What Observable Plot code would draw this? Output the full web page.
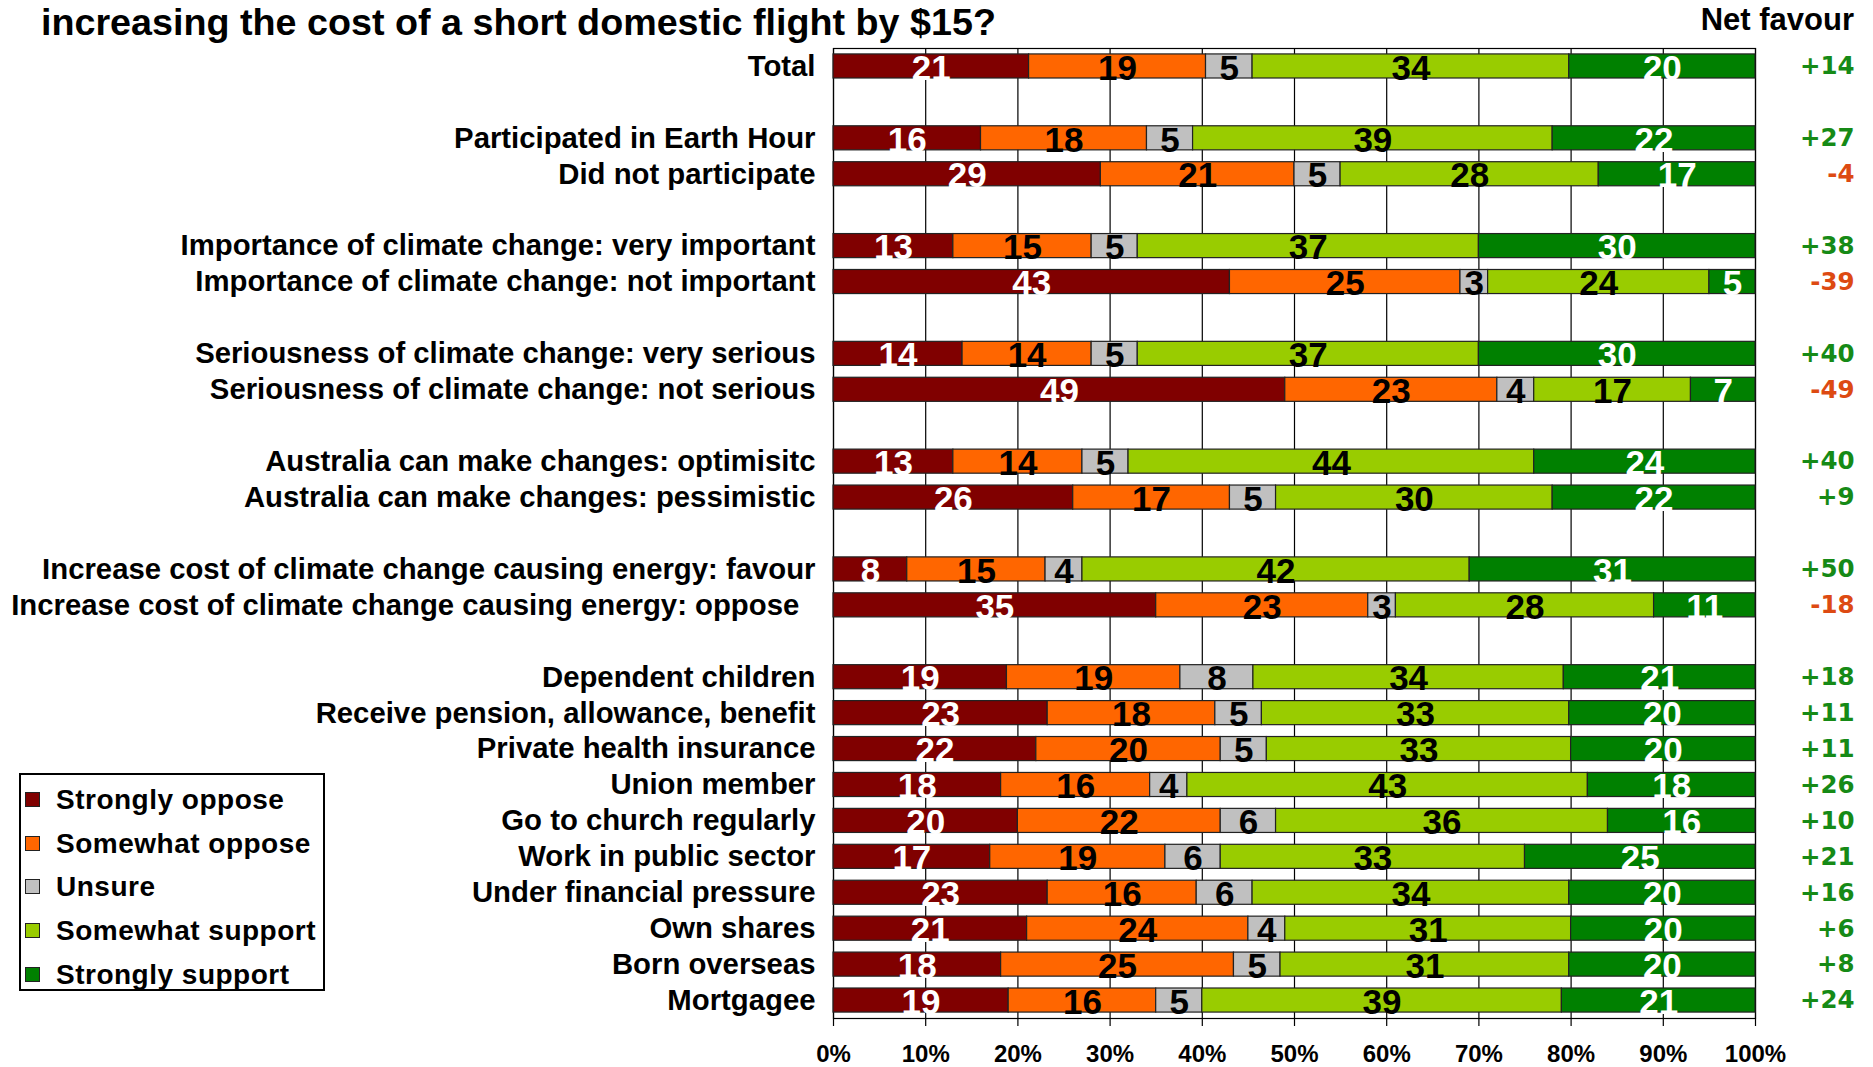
<!DOCTYPE html>
<html>
<head>
<meta charset="utf-8">
<script src="https://cdn.jsdelivr.net/npm/d3@7"></script>
<script src="https://cdn.jsdelivr.net/npm/@observablehq/plot@0.6"></script>
<style>
  html, body { margin: 0; padding: 0; background: #fff; }
  #page { position: relative; width: 1873px; height: 1067px; overflow: hidden; font-family: "Liberation Sans", Arial, sans-serif; }
  #header { position: relative; height: 40px; }
  #title { position: absolute; left: 41px; top: 2px; line-height: 40px; font-size: 37.7px; font-weight: bold; color: #000; white-space: nowrap; }
  #netHead { position: absolute; right: 19px; top: 0; line-height: 40px; font-size: 31px; font-weight: bold; color: #000; white-space: nowrap; }
  #chart svg { display: block; }
  #legend { position: absolute; left: 19px; top: 773px; width: 302px; height: 214px; border: 2px solid #000; background: #fff; box-sizing: content-box; }
  .item { position: absolute; left: 0; height: 30px; line-height: 30px; font-size: 28px; font-weight: bold; letter-spacing: 0.5px; white-space: nowrap; }
  .sw { position: absolute; left: 4px; top: 7px; width: 13px; height: 13px; border: 1.5px solid #222; }
  .lab { position: absolute; left: 35px; top: 0; }
</style>
</head>
<body>
<div id="page">
  <div id="header">
    <div id="title"></div>
    <div id="netHead"></div>
  </div>
  <div id="chart"></div>
  <div id="legend"></div>
</div>
<script>
// ---------- data ----------
const titleText = "increasing the cost of a short domestic flight by $15?";
const netHeader = "Net favour";
const segments = ["Strongly oppose", "Somewhat oppose", "Unsure", "Somewhat support", "Strongly support"];
const segmentColors = ["#800000", "#FF6600", "#C0C0C0", "#99CC00", "#008000"];
const rowLabels = [
  "Total",
  "Participated in Earth Hour",
  "Did not participate",
  "Importance of climate change: very important",
  "Importance of climate change: not important",
  "Seriousness of climate change: very serious",
  "Seriousness of climate change: not serious",
  "Australia can make changes: optimisitc",
  "Australia can make changes: pessimistic",
  "Increase cost of climate change causing energy: favour",
  "Increase cost of climate change causing energy: oppose\u00a0\u00a0",
  "Dependent children",
  "Receive pension, allowance, benefit",
  "Private health insurance",
  "Union member",
  "Go to church regularly",
  "Work in public sector",
  "Under financial pressure",
  "Own shares",
  "Born overseas",
  "Mortgagee"
];
const groupSizes = [1, 2, 2, 2, 2, 2, 10];
const stronglyOppose  = [21, 16, 29, 13, 43, 14, 49, 13, 26,  8, 35, 19, 23, 22, 18, 20, 17, 23, 21, 18, 19];
const somewhatOppose  = [19, 18, 21, 15, 25, 14, 23, 14, 17, 15, 23, 19, 18, 20, 16, 22, 19, 16, 24, 25, 16];
const unsure          = [ 5,  5,  5,  5,  3,  5,  4,  5,  5,  4,  3,  8,  5,  5,  4,  6,  6,  6,  4,  5,  5];
const somewhatSupport = [34, 39, 28, 37, 24, 37, 17, 44, 30, 42, 28, 34, 33, 33, 43, 36, 33, 34, 31, 31, 39];
const stronglySupport = [20, 22, 17, 30,  5, 30,  7, 24, 22, 31, 11, 21, 20, 20, 18, 16, 25, 20, 20, 20, 21];
const netFavour       = [14, 27, -4, 38, -39, 40, -49, 40, 9, 50, -18, 18, 11, 11, 26, 10, 21, 16, 6, 8, 24];
const xTicks = [0, 10, 20, 30, 40, 50, 60, 70, 80, 90, 100];

// ---------- build ----------
const series = [stronglyOppose, somewhatOppose, unsure, somewhatSupport, stronglySupport];
const table = rowLabels.flatMap((row, i) => segments.map((seg, j) => ({row, seg, value: series[j][i]})));
const netTable = rowLabels.map((row, i) => ({row, net: netFavour[i]}));
const yDomain = [];
{
  let k = 0;
  groupSizes.forEach((n, g) => {
    if (g > 0) yDomain.push("gap" + g);
    for (let i = 0; i < n; i++) yDomain.push(rowLabels[k++]);
  });
}
const whiteText = new Set(["Strongly oppose", "Strongly support"]);
const sansBold = "'Liberation Sans', Arial, sans-serif";
const netFont = "'DejaVu Sans', Verdana, sans-serif";

document.getElementById("title").textContent = titleText;
document.getElementById("netHead").textContent = netHeader;

const chart = Plot.plot({
  width: 1873,
  height: 1027,
  marginTop: 8,
  marginBottom: 49,
  marginLeft: 833,
  marginRight: 118,
  style: {background: "white", overflow: "visible", color: "#000"},
  x: {domain: [0, 1], axis: null},
  y: {domain: yDomain, paddingInner: 0.33, paddingOuter: 0.165, round: false, axis: null},
  color: {domain: segments, range: segmentColors},
  marks: [
    Plot.gridX(xTicks.map(t => t / 100), {stroke: "#000", strokeOpacity: 1, strokeWidth: 1.2}),
    Plot.frame({stroke: "#000", strokeWidth: 1.2}),
    Plot.barX(table, Plot.stackX({
      x: "value", y: "row", fill: "seg", offset: "normalize",
      stroke: "#222", strokeWidth: 1.2
    })),
    Plot.text(table, Plot.stackX({
      x: "value", y: "row", z: "seg", offset: "normalize",
      text: d => whiteText.has(d.seg) ? String(d.value) : null,
      fill: "white", fontSize: 35, fontWeight: "bold", fontFamily: sansBold, dy: 2,
      ariaLabel: "bar-value"
    })),
    Plot.text(table, Plot.stackX({
      x: "value", y: "row", z: "seg", offset: "normalize",
      text: d => whiteText.has(d.seg) ? null : String(d.value),
      fill: "black", fontSize: 35, fontWeight: "bold", fontFamily: sansBold, dy: 2,
      ariaLabel: "bar-value"
    })),
    Plot.text(rowLabels, {
      x: 0, y: d => d, text: d => d, textAnchor: "end", dx: -18,
      fontSize: 29.3, fontWeight: "bold", fontFamily: sansBold, fill: "black"
    }),
    Plot.text(netTable, {
      filter: d => d.net > 0, x: 1, y: "row", text: d => "+" + d.net, textAnchor: "end", dx: 99,
      fontSize: 24.5, fontWeight: "bold", fontFamily: netFont, fill: "#168a16"
    }),
    Plot.text(netTable, {
      filter: d => d.net <= 0, x: 1, y: "row", text: d => String(d.net), textAnchor: "end", dx: 99,
      fontSize: 24.5, fontWeight: "bold", fontFamily: netFont, fill: "#dd4a12"
    }),
    Plot.axisX(xTicks.map(t => t / 100), {
      tickFormat: d => Math.round(d * 100) + "%",
      tickSize: 8, tickPadding: 18, stroke: "#000", strokeWidth: 1.2,
      fontSize: 24, fontWeight: "bold", fontFamily: sansBold, fill: "#000", label: null
    })
  ]
});
document.getElementById("chart").appendChild(chart);

// condensed (narrow) look for the in-bar value labels
d3.select(chart).selectAll('g[aria-label="bar-value"] text').each(function () {
  const t = this.getAttribute("transform") || "";
  const x = +this.getAttribute("x") || 0;
  const y = +this.getAttribute("y") || 0;
  this.removeAttribute("x");
  this.removeAttribute("y");
  this.setAttribute("transform", `${t} translate(${x},${y}) scale(0.8,1)`);
});

// legend
const legend = document.getElementById("legend");
const itemCenters = [25, 69, 112, 156, 200];
segments.forEach((seg, i) => {
  const it = document.createElement("div");
  it.className = "item";
  it.style.top = (itemCenters[i] - 15) + "px";
  const sw = document.createElement("div");
  sw.className = "sw";
  sw.style.background = segmentColors[i];
  const lab = document.createElement("div");
  lab.className = "lab";
  lab.textContent = seg;
  it.appendChild(sw);
  it.appendChild(lab);
  legend.appendChild(it);
});
</script>
</body>
</html>
